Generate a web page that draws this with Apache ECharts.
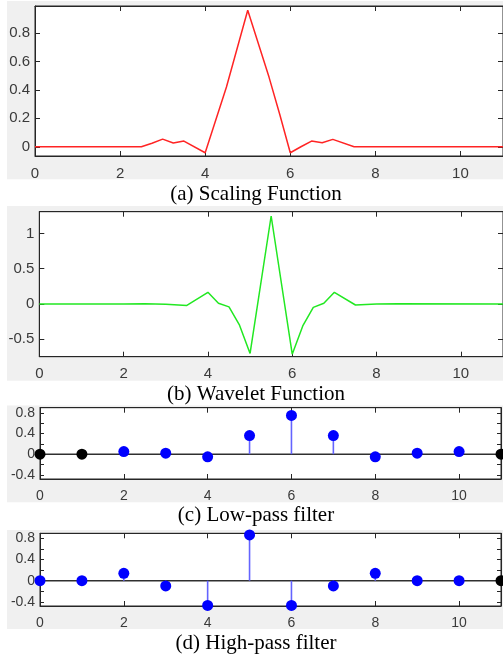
<!DOCTYPE html>
<html>
<head>
<meta charset="utf-8">
<script src="https://cdn.jsdelivr.net/npm/echarts@6/dist/echarts.min.js"></script>
<style>
  html, body { margin: 0; padding: 0; background: #fff; }
  #main { width: 503px; height: 658px; }
</style>
</head>
<body>
<div id="main"></div>
<script>
// scaling function (a)
var scalingX = [0, 2, 2.5, 2.75, 3, 3.25, 3.5, 4, 4.5, 5, 5.5, 5.75, 6, 6.25, 6.5, 6.75, 7, 7.5, 8, 11];
var scalingY = [0, 0, 0, 0.025, 0.054, 0.026, 0.04, -0.042, 0.42, 0.96, 0.49, 0.23, -0.042, 0.0, 0.04, 0.028, 0.052, 0.0, 0.0, 0];

// wavelet function (b)
var waveletX = [0, 2, 2.5, 3, 3.5, 4, 4.25, 4.5, 4.75, 5, 5.5, 6, 6.25, 6.5, 6.75, 7, 7.5, 8, 8.5, 11];
var waveletY = [0, 0, 0.005, -0.005, -0.02, 0.166, 0.01, -0.04, -0.3, -0.70, 1.246, -0.71, -0.31, -0.047, 0.01, 0.166, -0.014, 0, 0.003, 0];

// low-pass filter (c)
var lowX = [2, 3, 4, 5, 6, 7, 8, 9, 10];
var lowY = [0.05, 0.02, -0.05, 0.36, 0.75, 0.36, -0.05, 0.02, 0.05];
var lowPadX = [0, 1, 11];
var lowPadY = [0, 0, 0];

// high-pass filter (d)
var highX = [0, 1, 2, 3, 4, 5, 6, 7, 8, 9, 10];
var highY = [0, 0, 0.14, -0.1, -0.47, 0.87, -0.47, -0.1, 0.14, 0, 0];
var highPadX = [11];
var highPadY = [0];

var baseX = [0, 11];
var baseY = [0, 0];

var xTicks = [0, 2, 4, 6, 8, 10];
var yTicksA = [0, 0.2, 0.4, 0.6, 0.8];
var yTicksB = [-0.5, 0, 0.5, 1];
var yTicksCD = [-0.4, -0.2, 0, 0.2, 0.4, 0.6, 0.8];
var yLabelsCD = [-0.4, 0, 0.4, 0.8];

var captions = ['(a) Scaling Function', '(b) Wavelet Function', '(c) Low-pass filter', '(d) High-pass filter'];

function zip(xs, ys) {
  return xs.map(function (x, i) { return [x, ys[i]]; });
}

var frameColor = '#262626';
var labelColor = '#3a3a3a';

var grids = [
  { left: 35, top: 6, width: 471, height: 150 },
  { left: 39.3, top: 211.7, width: 467.5, height: 145 },
  { left: 40, top: 407.7, width: 461, height: 71.3 },
  { left: 40, top: 533.3, width: 461, height: 72.7 }
];
grids.forEach(function (g) {
  g.show = true;
  g.backgroundColor = '#fff';
  g.borderColor = frameColor;
  g.borderWidth = 1;
  g.containLabel = false;
});

var yRanges = [[-0.065, 0.99], [-0.746, 1.307], [-0.48, 0.9], [-0.48, 0.9]];
var yTicks = [yTicksA, yTicksB, yTicksCD, yTicksCD];
var yLabels = [yTicksA, yTicksB, yLabelsCD, yLabelsCD];
var fonts = [15, 15, 14, 14];

var xAxes = [], yAxes = [];
for (var i = 0; i < 4; i++) {
  var line = { show: true, onZero: false, lineStyle: { color: frameColor, width: 1 } };
  xAxes.push({
    type: 'value', gridIndex: i, min: 0, max: 11, position: 'bottom',
    axisLine: line,
    axisTick: { show: true, inside: true, length: 5, customValues: xTicks, lineStyle: { color: frameColor } },
    axisLabel: { show: true, customValues: xTicks, color: labelColor, fontSize: fonts[i], fontFamily: 'Liberation Sans', margin: 10 },
    splitLine: { show: false }
  });
  xAxes.push({
    type: 'value', gridIndex: i, min: 0, max: 11, position: 'top',
    axisLine: line,
    axisTick: { show: true, inside: true, length: 5, customValues: xTicks, lineStyle: { color: frameColor } },
    axisLabel: { show: false },
    splitLine: { show: false }
  });
  yAxes.push({
    type: 'value', gridIndex: i, min: yRanges[i][0], max: yRanges[i][1], position: 'left',
    axisLine: line,
    axisTick: { show: true, inside: true, length: i < 2 ? 5 : 4, customValues: yTicks[i], lineStyle: { color: frameColor } },
    axisLabel: { show: true, customValues: yLabels[i], color: labelColor, fontSize: fonts[i], fontFamily: 'Liberation Sans', margin: 5 },
    splitLine: { show: false }
  });
  yAxes.push({
    type: 'value', gridIndex: i, min: yRanges[i][0], max: yRanges[i][1], position: 'right',
    axisLine: line,
    axisTick: { show: true, inside: true, length: i < 2 ? 5 : 4, customValues: yTicks[i], lineStyle: { color: frameColor } },
    axisLabel: { show: false },
    splitLine: { show: false }
  });
}

function stemItem(color) {
  return function (params, api) {
    var p0 = api.coord([api.value(0), 0]);
    var p1 = api.coord([api.value(0), api.value(1)]);
    return {
      type: 'line',
      shape: { x1: p0[0], y1: p0[1], x2: p1[0], y2: p1[1] },
      style: { stroke: color, lineWidth: 1.6 }
    };
  };
}

var stemColor = '#6464ff';
var series = [
  { type: 'line', xAxisIndex: 0, yAxisIndex: 0, data: zip(scalingX, scalingY), showSymbol: false,
    lineStyle: { color: '#ff2424', width: 1.5 }, silent: true },
  { type: 'line', xAxisIndex: 2, yAxisIndex: 2, data: zip(waveletX, waveletY), showSymbol: false,
    lineStyle: { color: '#22e822', width: 1.5 }, silent: true }
];

var stems = [
  { xi: 4, yi: 4, blue: zip(lowX, lowY), pad: zip(lowPadX, lowPadY) },
  { xi: 6, yi: 6, blue: zip(highX, highY), pad: zip(highPadX, highPadY) }
];
stems.forEach(function (s) {
  series.push({ type: 'line', xAxisIndex: s.xi, yAxisIndex: s.yi, data: zip(baseX, baseY), showSymbol: false,
    lineStyle: { color: '#303030', width: 1.4 }, z: 1, silent: true });
  series.push({ type: 'custom', xAxisIndex: s.xi, yAxisIndex: s.yi, data: s.blue, renderItem: stemItem(stemColor), z: 2, silent: true });
  series.push({ type: 'scatter', xAxisIndex: s.xi, yAxisIndex: s.yi, data: s.blue, symbolSize: 11,
    itemStyle: { color: '#0000ff', opacity: 1 }, z: 3, clip: false, silent: true });
  series.push({ type: 'scatter', xAxisIndex: s.xi, yAxisIndex: s.yi, data: s.pad, symbolSize: 11,
    itemStyle: { color: '#000', opacity: 1 }, z: 3, clip: false, silent: true });
});

var panels = [[1, 178.3], [206, 174.7], [405.5, 96.8], [530, 99]];
var captionY = [194, 394, 515, 643];
var graphics = [];
panels.forEach(function (p) {
  graphics.push({ type: 'rect', shape: { x: 7, y: p[0], width: 496, height: p[1] }, style: { fill: '#f0f0f0' }, z: -10, silent: true });
});
captions.forEach(function (c, i) {
  graphics.push({ type: 'text', x: 256, y: captionY[i], style: { text: c, font: '21px "Liberation Serif"', fill: '#000', textAlign: 'center', textVerticalAlign: 'middle' }, silent: true });
});

var chart = echarts.init(document.getElementById('main'), null, { renderer: 'canvas' });
chart.setOption({
  animation: false,
  backgroundColor: '#fff',
  graphic: { elements: graphics },
  grid: grids,
  xAxis: xAxes,
  yAxis: yAxes,
  series: series
});
</script>
</body>
</html>
